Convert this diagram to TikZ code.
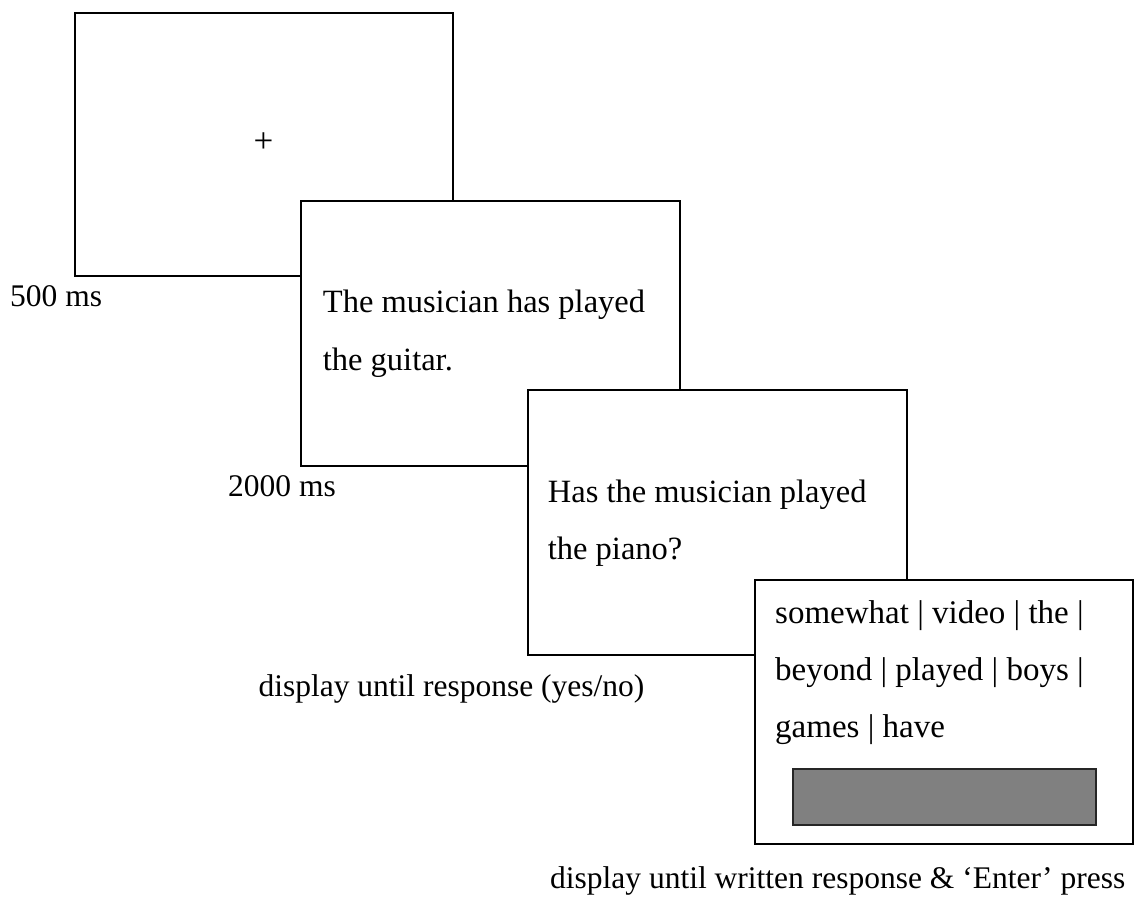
\documentclass[tikz,border=0pt]{standalone}
\usepackage{fontspec}
\setmainfont{Liberation Serif}
\begin{document}
\begin{tikzpicture}[x=1pt,y=-1pt,
  screen/.style={draw=black, line width=2pt, fill=white, inner sep=0pt},
  txt/.style={anchor=base west, inner sep=0pt, font=\fontsize{31.5}{38}\selectfont},
  boxtxt/.style={txt, font=\fontsize{32.5}{39}\selectfont},
  listtxt/.style={txt, font=\fontsize{33}{40}\selectfont},
  bar/.style={draw=black!85, line width=1.8pt, fill=black!50, inner sep=0pt}]
  \useasboundingbox (0,0) rectangle (1136,898);

  % trial screens, each overlapping the previous one
  \node[screen, minimum width=378.5pt, minimum height=263.5pt] (fix) at (263.75,144.25) {};
  \node[txt, anchor=center, font=\fontsize{35}{40}\selectfont] (cross) at (263.5,143) {+};
  \node[txt] (t500) at (10,306.7) {500 ms};

  \node[screen, minimum width=379pt, minimum height=265pt] (sent) at (490.5,333) {};
  \node[boxtxt] (s1) at (322.7,312.7) {The musician has played};
  \node[boxtxt] (s2) at (322.7,370) {the guitar.};
  \node[txt] (t2000) at (228,496) {2000 ms};

  \node[screen, minimum width=379pt, minimum height=265pt] (quest) at (717.5,522.5) {};
  \node[boxtxt] (q1) at (547.7,502) {Has the musician played};
  \node[boxtxt] (q2) at (547.7,559) {the piano?};
  \node[txt] (tyn) at (258.3,696.7) {display until response (yes/no)};

  \node[screen, minimum width=377.5pt, minimum height=264pt] (recall) at (943.75,712) {};
  \node[listtxt] (w1) at (775,623) {somewhat | video | the |};
  \node[listtxt] (w2) at (775,680) {beyond | played | boys |};
  \node[listtxt] (w3) at (775,737) {games | have};
  \node[bar, minimum width=303.6pt, minimum height=56.3pt] (answer) at (944.5,796.8) {};
  \node[txt] (tenter) at (550,888.3) {display until written response \& ‘Enter’ press};
\end{tikzpicture}
\end{document}
